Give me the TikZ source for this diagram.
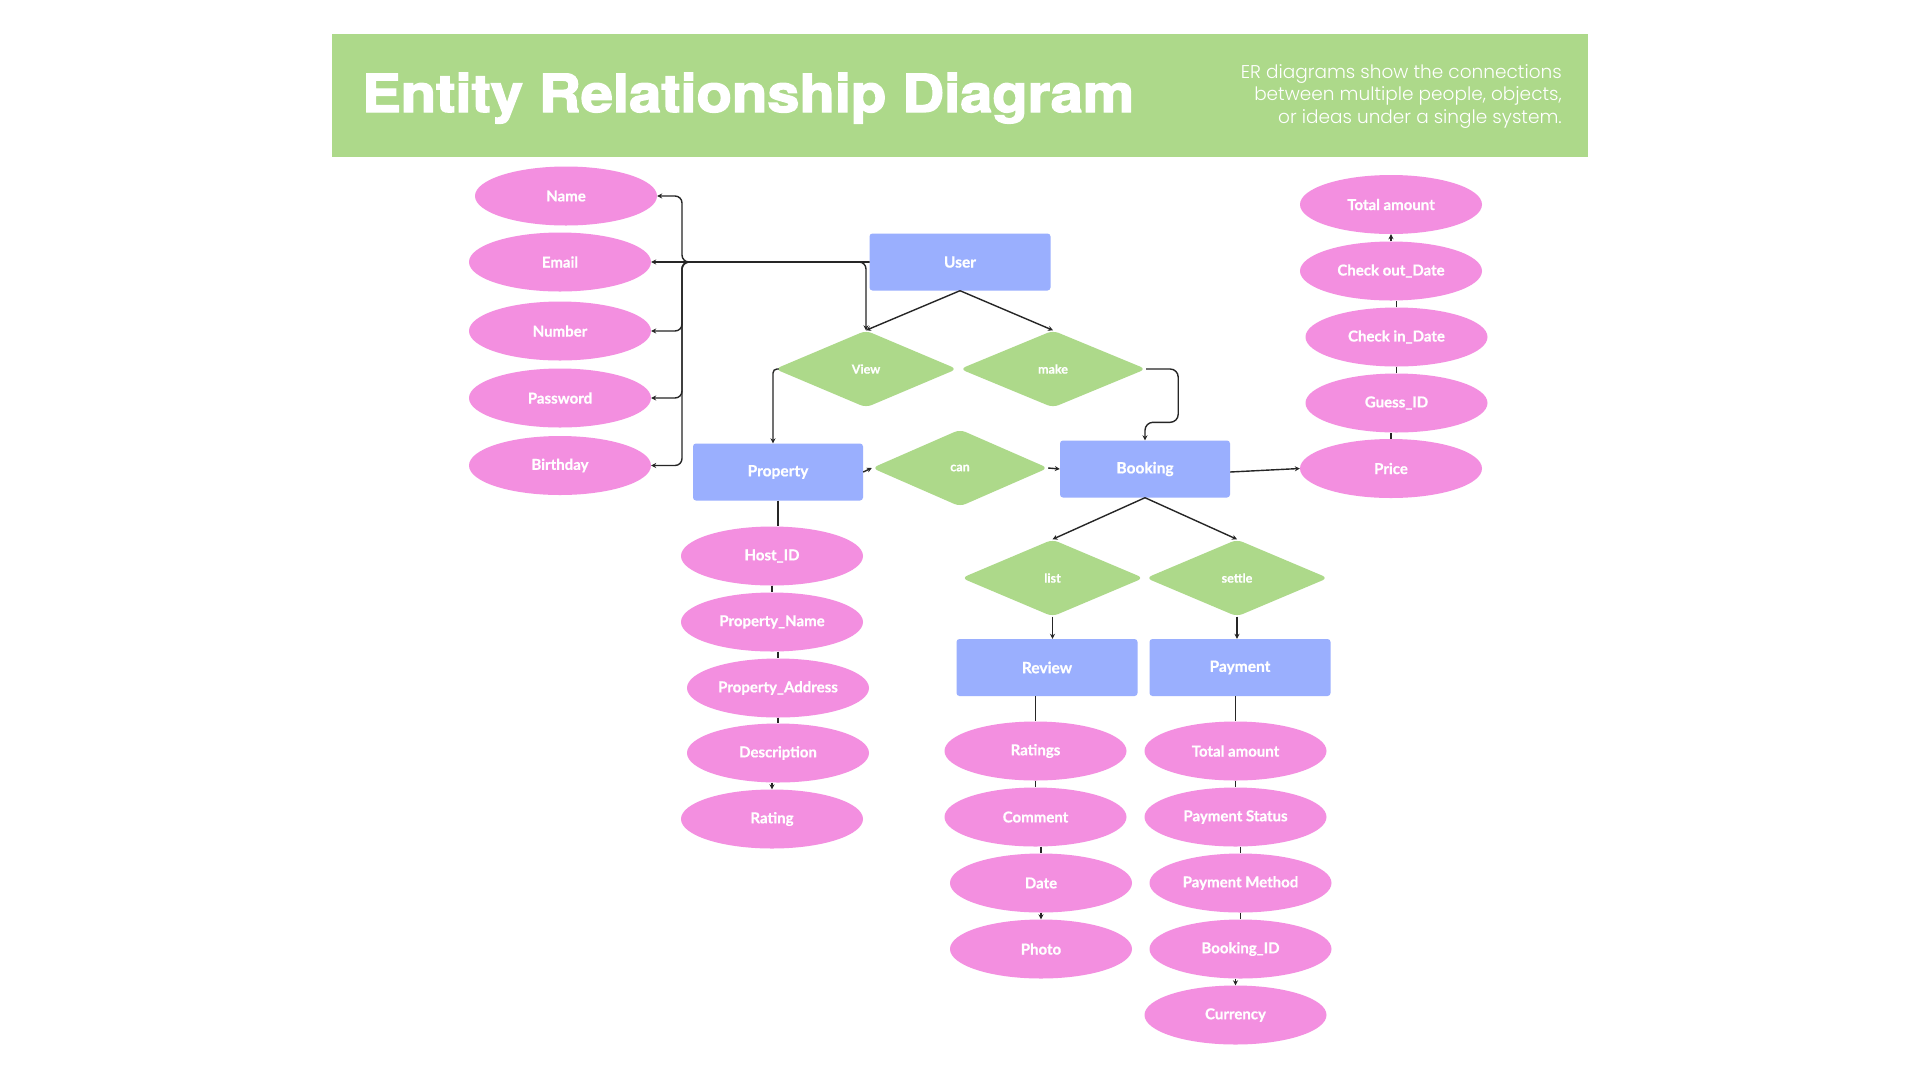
\documentclass[tikz,border=0pt]{standalone}
\usepackage{fontspec}
\usepackage{graphicx}
\usetikzlibrary{shapes.geometric,arrows.meta,calc}
\newfontfamily\titlefont{TeX Gyre Heros}[UprightFont=* Bold, UprightFeatures={FakeBold=2.5}]
\newfontfamily\subfont{Poppins}[UprightFont=* Light]
\newfontfamily\labelfont{Lato}[BoldFeatures={FakeBold=0.7}]
\definecolor{hdrgreen}{HTML}{ADD98A}
\definecolor{entblue}{HTML}{9AAFFE}
\definecolor{attrpink}{HTML}{F38FE0}
\definecolor{relgreen}{HTML}{ADD98A}
\begin{document}
\begin{tikzpicture}[x=1pt,y=-1pt,
  attr/.style={ellipse, fill=attrpink, minimum width=182pt, minimum height=59pt, inner sep=0pt, text=white, font=\labelfont\bfseries\fontsize{15}{18}\selectfont},
  entity/.style={rectangle, rounded corners=3pt, fill=entblue, minimum height=57pt, inner sep=0pt, text=white, font=\labelfont\bfseries\fontsize{15.5}{18}\selectfont},
  rel/.style={diamond, fill=relgreen, rounded corners=6pt, minimum width=186pt, minimum height=77pt, inner sep=0pt, text=white, font=\labelfont\bfseries\fontsize{12.5}{15}\selectfont},
  link/.style={draw=black!85, line width=1.4pt},
  arr/.style={link, -{Stealth[length=5pt,width=5pt]}},
  subline/.style={anchor=base east, inner sep=0pt, text=white, font=\subfont\fontsize{18.5}{22}\selectfont}
]
\useasboundingbox (0,0) rectangle (1920,1080);
\fill[white] (0,0) rectangle (1920,1080);

% header
\node[fill=hdrgreen, minimum width=1256pt, minimum height=123pt, inner sep=0pt, anchor=north west] (header) at (332,34) {};
\node[anchor=base west, inner sep=0pt, text=white] (title) at (362,112)
  {\resizebox{772pt}{\height}{\titlefont\fontsize{52.5}{52.5}\selectfont Entity Relationship Diagram}};
\node[subline] (sub1) at (1562,78.3) {ER diagrams show the connections};
\node[subline] (sub2) at (1562,100.7) {between multiple people, objects,};
\node[subline] (sub3) at (1562,123.3) {or ideas under a single system.};

% entities
\node[entity, minimum width=181pt] (User) at (960,262) {User};
\node[entity, minimum width=170pt] (Property) at (778,472) {Property};
\node[entity, minimum width=170pt] (Booking) at (1145,469) {Booking};
\node[entity, minimum width=181pt] (Review) at (1047,667.5) {Review};
\node[entity, minimum width=181pt] (Payment) at (1240,667.5) {Payment};

% relationships
\node[rel, minimum width=182pt] (View) at (866,369) {View};
\node[rel] (make) at (1053,369) {make};
\node[rel, minimum width=176pt] (can) at (960,468) {can};
\node[rel, minimum width=182pt] (list) at (1052.5,578) {list};
\node[rel, minimum width=182pt] (settle) at (1237,578) {settle};

% user attributes
\node[attr] (Name) at (566,196) {Name};
\node[attr] (Email) at (560,262) {Email};
\node[attr] (Number) at (560,331) {Number};
\node[attr] (Password) at (560,398) {Password};
\node[attr] (Birthday) at (560,465.5) {Birthday};

% booking attributes
\node[attr] (BTotal) at (1391,204.5) {Total amount};
\node[attr] (CheckOut) at (1391,271) {Check out\_Date};
\node[attr] (CheckIn) at (1396.5,337) {Check in\_Date};
\node[attr] (Guess) at (1396.5,403) {Guess\_ID};
\node[attr] (Price) at (1391,468.5) {Price};

% property attributes
\node[attr] (Host) at (772,556) {Host\_ID};
\node[attr] (PName) at (772,622) {Property\_Name};
\node[attr] (PAddr) at (778,688) {Property\_Address};
\node[attr] (Desc) at (778,753) {Description};
\node[attr] (Rating) at (772,819) {Rating};

% review attributes
\node[attr] (Ratings) at (1035.5,751) {Ratings};
\node[attr] (Comment) at (1035.5,817) {Comment};
\node[attr] (Date) at (1041,883) {Date};
\node[attr] (Photo) at (1041,949) {Photo};

% payment attributes
\node[attr] (PTotal) at (1235.5,751) {Total amount};
\node[attr] (Status) at (1235.5,817) {Payment Status};
\node[attr] (Method) at (1240.5,883) {Payment Method};
\node[attr] (BookID) at (1240.5,949) {Booking\_ID};
\node[attr] (Currency) at (1235.5,1015) {Currency};

% user bundle
\coordinate (bus) at (682,262);
\draw[arr, rounded corners=7pt] (User.west) -- (bus) |- (Name.east);
\draw[arr] (User.west) -- (Email.east);
\draw[arr, rounded corners=7pt] (User.west) -- (bus) |- (Number.east);
\draw[arr, rounded corners=7pt] (User.west) -- (bus) |- (Password.east);
\draw[arr, rounded corners=7pt] (User.west) -- (bus) |- (Birthday.east);
\draw[arr, rounded corners=7pt] (bus) -| (View.north);

% user to relationships
\draw[arr] (User.south) -- (View.north);
\draw[arr] (User.south) -- (make.north);
\draw[arr, rounded corners=4pt] ([xshift=4pt]View.west) -| ([xshift=-5pt]Property.north);
\draw[arr, rounded corners=8pt] (make.east) -- ++(32pt,0) |- ([yshift=18pt]Booking.north) -- (Booking.north);
\draw[arr] (Property.east) -- (can.west);
\draw[arr] (can.east) -- (Booking.west);
\draw[arr] ([yshift=-3pt]Booking.east) -- (Price.west);

% booking attribute chain
\draw[link] (Price.north) -- (Price.north |- Guess.south);
\draw[link] (CheckIn.north |- Guess.north) -- (CheckIn.south);
\draw[link] (CheckIn.north) -- (CheckIn.north |- CheckOut.south);
\draw[arr] (CheckOut.north) -- (BTotal.south);

% property chain
\draw[link] (Property.south) -- (Property.south |- Host.north);
\draw[link] (Host.south) -- (Host.south |- PName.north);
\draw[link] (PAddr.north |- PName.south) -- (PAddr.north);
\draw[link] (PAddr.south) -- (PAddr.south |- Desc.north);
\draw[arr] (Rating.north |- Desc.south) -- (Rating.north);

% booking to list/settle
\draw[arr] (Booking.south) -- (list.north);
\draw[arr] (Booking.south) -- (settle.north);
\draw[arr] (list.south) -- (list.south |- Review.north);
\draw[arr] (settle.south) -- (settle.south |- Payment.north);

% review chain
\draw[link] (Ratings.north |- Review.south) -- (Ratings.north);
\draw[link] (Ratings.south) -- (Ratings.south |- Comment.north);
\draw[link] (Date.north |- Comment.south) -- (Date.north);
\draw[arr] (Date.south) -- (Photo.north);

% payment chain
\draw[link] (PTotal.north |- Payment.south) -- (PTotal.north);
\draw[link] (PTotal.south) -- (PTotal.south |- Status.north);
\draw[link] (Method.north |- Status.south) -- (Method.north);
\draw[link] (Method.south) -- (Method.south |- BookID.north);
\draw[arr] (Currency.north |- BookID.south) -- (Currency.north);
\end{tikzpicture}
\end{document}
